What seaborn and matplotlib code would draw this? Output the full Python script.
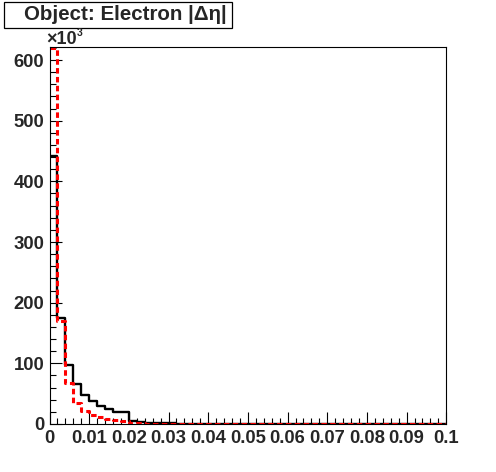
import numpy as np
import pandas as pd
import matplotlib
matplotlib.use("Agg")
import matplotlib.pyplot as plt
from matplotlib.patches import Rectangle
from matplotlib.ticker import MultipleLocator
import seaborn as sns

# ---- data (counts in units of 10^3), 50 bins of width 0.002 over [0, 0.1]
bin_edges = [round(0.002 * i, 3) for i in range(51)]
black_counts = [442, 175, 97, 65.5, 47, 38, 30, 25, 20.5, 19,
                5, 3, 2, 1.5, 1.2, 1.0, 0.8, 0.7, 0.6, 0.5,
                0.4, 0.4, 0.3, 0.3, 0.3, 0.2, 0.2, 0.2, 0.2, 0.2,
                0.1, 0.1, 0.1, 0.1, 0.1, 0.1, 0.1, 0.1, 0.1, 0.1,
                0.1, 0.1, 0.1, 0.1, 0.1, 0.1, 0.1, 0.1, 0.1, 0.1]
red_counts = [620, 170, 68, 35, 22, 15.5, 11.5, 8, 6.5, 5,
              2, 1, 0.8, 0.6, 0.5, 0.4, 0.3, 0.3, 0.2, 0.2,
              0.2, 0.1, 0.1, 0.1, 0.1, 0.1, 0.1, 0.1, 0.1, 0.1,
              0.1, 0.1, 0.1, 0.1, 0.1, 0.1, 0.1, 0.1, 0.1, 0.1,
              0.1, 0.1, 0.1, 0.1, 0.1, 0.1, 0.1, 0.1, 0.1, 0.1]
x_ticks = [0, 0.01, 0.02, 0.03, 0.04, 0.05, 0.06, 0.07, 0.08, 0.09, 0.1]
x_tick_labels = ["0", "0.01", "0.02", "0.03", "0.04", "0.05", "0.06", "0.07", "0.08", "0.09", "0.1"]
y_ticks = [0, 100, 200, 300, 400, 500, 600]
title_text = "Object: Electron |\u0394\u03b7|"

centers = [(bin_edges[i] + bin_edges[i + 1]) / 2 for i in range(50)]
df_black = pd.DataFrame({"x": centers, "w": black_counts})
df_red = pd.DataFrame({"x": centers, "w": red_counts})

sns.set_style("ticks")
plt.rcParams["font.family"] = ["Liberation Sans", "DejaVu Sans"]
plt.rcParams["font.weight"] = "bold"

fig = plt.figure(figsize=(4.96, 4.72), dpi=100)
fig.patch.set_facecolor("white")
ax = fig.add_axes([49.5 / 496, 48 / 472, (446.3 - 49.5) / 496, (424 - 47.3) / 472])
ax.set_facecolor("white")

sns.histplot(data=df_black, x="x", weights="w", bins=bin_edges, element="step",
             fill=False, color="black", linewidth=1.7, ax=ax)
sns.histplot(data=df_red, x="x", weights="w", bins=bin_edges, element="step",
             fill=False, color="#ff0000", linewidth=2.2, linestyle=(0, (1.8, 1.1)), ax=ax)

ax.set_xlim(0, 0.1)
ax.set_ylim(0, 621)
ax.set_xlabel("")
ax.set_ylabel("")
ax.set_xticks(x_ticks)
ax.set_xticklabels(x_tick_labels)
ax.set_yticks(y_ticks)
ax.set_yticklabels([str(v) for v in y_ticks])
ax.xaxis.set_minor_locator(MultipleLocator(0.002))
ax.yaxis.set_minor_locator(MultipleLocator(20))
ax.tick_params(which="both", direction="in", top=False, right=False, color="black", width=0.8)
ax.tick_params(which="major", length=8.6)
ax.tick_params(which="minor", length=4.3)
ax.tick_params(axis="x", which="major", pad=4.0, labelsize=13.3)
ax.tick_params(axis="y", which="major", pad=3.6, labelsize=13.3)
for lab in ax.get_xticklabels() + ax.get_yticklabels():
    lab.set_fontweight("bold")
for s in ax.spines.values():
    s.set_visible(True)
    s.set_color("black")
    s.set_linewidth(0.8)

# exponent label
fig.text(46 / 496, 1 - 44.5 / 472, "\u00d710", fontsize=13, fontweight="bold",
         ha="left", va="baseline")
fig.text(76.5 / 496, 1 - 36 / 472, "3", fontsize=7.5, fontweight="bold",
         ha="left", va="baseline")

# title box
fig.patches.append(Rectangle((4 / 496, 1 - 28.3 / 472), 228 / 496, 26.6 / 472,
                             transform=fig.transFigure, facecolor="white",
                             edgecolor="black", linewidth=0.9))
fig.text(125 / 496, 1 - 15 / 472, title_text, fontsize=14.8, fontweight="bold",
         ha="center", va="center")

fig.savefig("out.png", dpi=100, facecolor="white")
